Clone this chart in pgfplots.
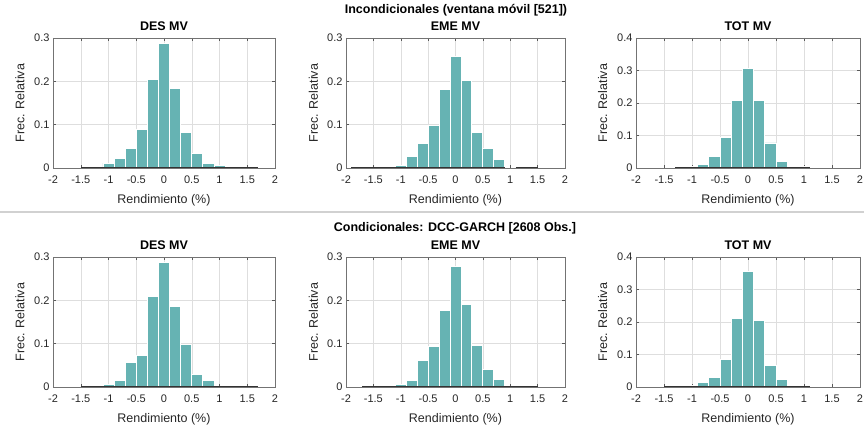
\documentclass[border=0pt]{standalone}
\usepackage{pgfplots}
\pgfplotsset{compat=1.18}
\usepackage{fontspec}
\setmainfont{Liberation Sans}
\definecolor{barcol}{RGB}{102,179,179}
\pgfplotsset{
  hist/.style={
    scale only axis,
    height=130pt,
    xmin=-2, xmax=2, ymin=0,
    enlargelimits=false,
    xtick={-2,-1.5,-1,-0.5,0,0.5,1,1.5,2},
    grid=major,
    major grid style={black!13, line width=0.5pt},
    axis line style={black!55, line width=0.5pt},
    tick style={black!65, line width=0.5pt},
    tick align=inside, major tick length=3pt,
    /pgf/number format/assume math mode=true,
    ticklabel style={font=\fontsize{11}{12}\selectfont, text=black!85},
    xticklabel style={/pgf/number format/fixed, yshift=-4pt},
    yticklabel style={/pgf/number format/fixed},
    xlabel={Rendimiento (\%)}, ylabel={Frec. Relativa},
    xlabel style={at={(axis description cs:0.5,0)}, anchor=center, yshift=-32.5pt, font=\fontsize{12.5}{14}\selectfont, text=black!85},
    ylabel style={at={(axis description cs:-0.149,0.5)}, anchor=center, font=\fontsize{12.5}{14}\selectfont, text=black!85},
    title style={at={(axis description cs:0.5,1)}, anchor=center, yshift=5.5pt, font=\bfseries\fontsize{12.5}{14}\selectfont},
  },
  bars/.style={ybar, bar width=0.2, bar shift=0pt, fill=barcol, draw=white, line width=0.9pt},
  base/.style={black!80, line width=1.8pt},
}
\begin{document}
\begin{tikzpicture}
\path[use as bounding box] (0pt,0pt) rectangle (864pt,428pt);
\draw[black!18, line width=1.5pt] (0pt,216pt) -- (864pt,216pt);
\node[font=\bfseries\fontsize{12.5}{14}\selectfont] at (456pt,418pt) {Incondicionales (ventana móvil [521])};
\node[font=\bfseries\fontsize{12.5}{14}\selectfont] at (455pt,200pt) {Condicionales: DCC-GARCH [2608 Obs.]};

% ---------- Top row ----------
\begin{axis}[hist, at={(53pt,260pt)}, anchor=south west, width=222pt, ymax=0.3, ytick={0,0.1,0.2,0.3}, title={DES MV}]
\addplot[bars] coordinates {(-1.4,0.001) (-1.2,0.002) (-1.0,0.011) (-0.8,0.023) (-0.6,0.044) (-0.4,0.089) (-0.2,0.204) (0,0.288) (0.2,0.183) (0.4,0.083) (0.6,0.033) (0.8,0.011) (1.0,0.006) (1.2,0.002) (1.4,0.001) (1.6,0.0005)};
\addplot[base] coordinates {(-1.5,0) (1.7,0)};
\end{axis}

\begin{axis}[hist, at={(346pt,260pt)}, anchor=south west, width=219pt, ymax=0.3, ytick={0,0.1,0.2,0.3}, title={EME MV}]
\addplot[bars] coordinates {(-1.8,0.0005) (-1.6,0.002) (-1.4,0.0005) (-1.2,0.002) (-1.0,0.005) (-0.8,0.026) (-0.6,0.056) (-0.4,0.099) (-0.2,0.181) (0,0.258) (0.2,0.203) (0.4,0.083) (0.6,0.046) (0.8,0.020) (1.2,0.002) (1.4,0.0005)};
\addplot[base] coordinates {(-1.9,0) (0.9,0)};
\addplot[base] coordinates {(1.1,0) (1.5,0)};
\end{axis}

\begin{axis}[hist, at={(636pt,260pt)}, anchor=south west, width=224pt, ymax=0.4, ytick={0,0.1,0.2,0.3,0.4}, title={TOT MV}]
\addplot[bars] coordinates {(-1.2,0.0005) (-1.0,0.004) (-0.8,0.012) (-0.6,0.036) (-0.4,0.094) (-0.2,0.209) (0,0.306) (0.2,0.209) (0.4,0.077) (0.6,0.020) (0.8,0.002) (1.0,0.004)};
\addplot[base] coordinates {(-1.3,0) (1.1,0)};
\end{axis}

% ---------- Bottom row ----------
\begin{axis}[hist, at={(53pt,41pt)}, anchor=south west, width=222pt, ymax=0.3, ytick={0,0.1,0.2,0.3}, title={DES MV}]
\addplot[bars] coordinates {(-1.4,0.0005) (-1.2,0.003) (-1.0,0.005) (-0.8,0.015) (-0.6,0.056) (-0.4,0.072) (-0.2,0.210) (0,0.288) (0.2,0.185) (0.4,0.099) (0.6,0.030) (0.8,0.015) (1.0,0.002) (1.2,0.0005) (1.6,0.0005)};
\addplot[base] coordinates {(-1.5,0) (1.7,0)};
\end{axis}

\begin{axis}[hist, at={(346pt,41pt)}, anchor=south west, width=219pt, ymax=0.3, ytick={0,0.1,0.2,0.3}, title={EME MV}]
\addplot[bars] coordinates {(-1.6,0.0005) (-1.4,0.001) (-1.2,0.001) (-1.0,0.006) (-0.8,0.016) (-0.6,0.061) (-0.4,0.093) (-0.2,0.177) (0,0.278) (0.2,0.191) (0.4,0.095) (0.6,0.041) (0.8,0.018) (1.0,0.002) (1.2,0.0015)};
\addplot[base] coordinates {(-1.7,0) (1.5,0)};
\end{axis}

\begin{axis}[hist, at={(636pt,41pt)}, anchor=south west, width=224pt, ymax=0.4, ytick={0,0.1,0.2,0.3,0.4}, title={TOT MV}]
\addplot[bars] coordinates {(-1.2,0.0005) (-1.0,0.005) (-0.8,0.013) (-0.6,0.028) (-0.4,0.085) (-0.2,0.212) (0,0.354) (0.2,0.204) (0.4,0.065) (0.6,0.022) (0.8,0.003) (1.0,0.0005)};
\addplot[base] coordinates {(-1.5,0) (1.1,0)};
\end{axis}
\end{tikzpicture}
\end{document}
